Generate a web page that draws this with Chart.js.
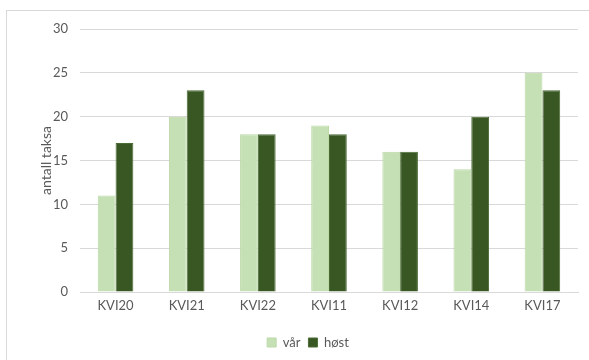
<!DOCTYPE html>
<html>
<head>
<meta charset="utf-8">
<script src="https://cdn.jsdelivr.net/npm/chart.js@4/dist/chart.umd.min.js"></script>
<style>
  html, body { margin: 0; padding: 0; background: #fff; }
  #wrap { width: 589px; height: 360px; position: relative; }
</style>
</head>
<body>
<div id="wrap"><canvas id="c" width="589" height="360"></canvas></div>
<script>
// Antall taksa per stasjon, vår og høst
const stations = ['KVI20', 'KVI21', 'KVI22', 'KVI11', 'KVI12', 'KVI14', 'KVI17'];
const varValues = [11, 20, 18, 19, 16, 14, 25];
const hostValues = [17, 23, 18, 18, 16, 20, 23];
const yTicks = [0, 5, 10, 15, 20, 25, 30];

const tickColor = '#595959';
const fontFamily = 'Lato, "Open Sans", "Liberation Sans", sans-serif';

// Thin frame around the chart area
const framePlugin = {
  id: 'frame',
  beforeDraw(chart) {
    const ctx = chart.ctx;
    ctx.save();
    ctx.fillStyle = '#ffffff';
    ctx.fillRect(0, 0, chart.width, chart.height);
    ctx.strokeStyle = '#d9d9d9';
    ctx.lineWidth = 1;
    ctx.strokeRect(6.5, 10.5, 590, 360);
    ctx.restore();
  }
};

new Chart(document.getElementById('c'), {
  type: 'bar',
  data: {
    labels: stations,
    datasets: [
      {
        label: 'vår',
        data: varValues,
        backgroundColor: '#c5e0b4',
        borderColor: '#bcd9a8',
        borderWidth: 1,
        categoryPercentage: 0.5,
        barPercentage: 1.0
      },
      {
        label: 'høst',
        data: hostValues,
        backgroundColor: '#385723',
        borderColor: '#4a6b34',
        borderWidth: 1,
        categoryPercentage: 0.5,
        barPercentage: 1.0
      }
    ]
  },
  options: {
    responsive: false,
    animation: false,
    devicePixelRatio: 1,
    layout: { padding: { left: 38, right: 11, top: 29, bottom: 1 } },
    plugins: {
      legend: {
        position: 'bottom',
        labels: {
          color: tickColor,
          font: { family: fontFamily, size: 13 },
          boxWidth: 9,
          boxHeight: 9,
          padding: 8
        }
      },
      tooltip: { enabled: false }
    },
    scales: {
      x: {
        afterFit(scale) { scale.height = 36; },
        grid: { display: false, drawTicks: false },
        border: { display: true, color: '#d9d9d9' },
        ticks: {
          color: tickColor,
          font: { family: fontFamily, size: 13 },
          padding: 6
        }
      },
      y: {
        min: 0,
        max: 30,
        afterBuildTicks(scale) {
          scale.ticks = yTicks.map(v => ({ value: v }));
        },
        afterFit(scale) { scale.width = 42; },
        grid: { color: '#d9d9d9', drawTicks: false },
        border: { display: false },
        ticks: {
          color: tickColor,
          font: { family: fontFamily, size: 13 },
          padding: 12
        },
        title: {
          display: true,
          text: 'antall taksa',
          color: tickColor,
          font: { family: fontFamily, size: 14 },
          padding: 0
        }
      }
    }
  },
  plugins: [framePlugin]
});
</script>
</body>
</html>
